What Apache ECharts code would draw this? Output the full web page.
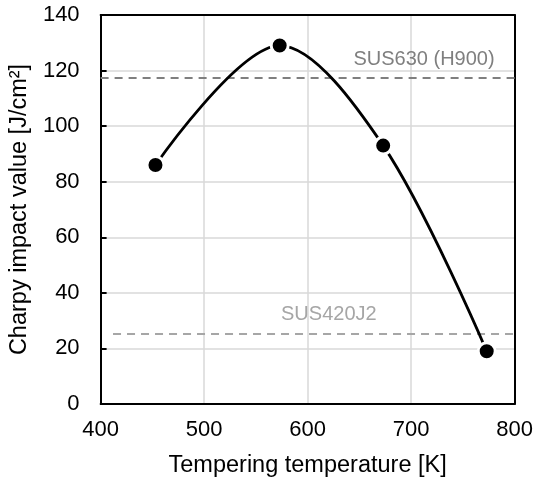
<!DOCTYPE html>
<html>
<head>
<meta charset="utf-8">
<script src="https://cdn.jsdelivr.net/npm/echarts@6/dist/echarts.min.js"></script>
<style>html,body{margin:0;padding:0;background:#fff;}#c{width:536px;height:483px;}</style>
</head>
<body>
<div id="c"></div>
<script>
var temperatures = [453, 573, 673, 773];
var charpyValues = [86, 129, 93, 19];
var xTicks = [400, 500, 600, 700, 800];
var yTicks = [0, 20, 40, 60, 80, 100, 120, 140];
var refNames = ['SUS630 (H900)', 'SUS420J2'];
var refValues = [117.3, 25.2];
var refStartX = [400, 412];

var FONT = 'Liberation Sans, Arial, sans-serif';
var chart = echarts.init(document.getElementById('c'), null, {renderer: 'canvas'});
var seriesData = temperatures.map(function (t, i) { return [t, charpyValues[i]]; });

var xMin = xTicks[0], xMax = xTicks[xTicks.length - 1];
var yMin = yTicks[0], yMax = yTicks[yTicks.length - 1];

var option = {
  animation: false,
  backgroundColor: '#fff',
  grid: {left: 100, right: 20, top: 15, bottom: 78},
  xAxis: [{
    type: 'value', min: xMin, max: xMax, interval: 100, position: 'bottom',
    name: 'Tempering temperature [K]', nameLocation: 'middle', nameGap: 50,
    nameTextStyle: {color: '#000', fontSize: 23.5, fontFamily: FONT},
    axisLine: {show: true, onZero: false, lineStyle: {color: '#000', width: 2}},
    axisTick: {show: false},
    axisLabel: {color: '#000', fontSize: 22, fontFamily: FONT, margin: 15},
    splitLine: {show: true, lineStyle: {color: '#d9d9d9', width: 1.5}}
  }, {
    type: 'value', min: xMin, max: xMax, interval: 100, position: 'top',
    axisLine: {show: true, onZero: false, lineStyle: {color: '#000', width: 2}},
    axisTick: {show: false}, axisLabel: {show: false}, splitLine: {show: false}
  }],
  yAxis: [{
    type: 'value', min: yMin, max: yMax, interval: 20, position: 'left',
    name: 'Charpy impact value [J/cm²]', nameLocation: 'middle', nameGap: 67,
    nameTextStyle: {color: '#000', fontSize: 23.5, fontFamily: FONT},
    axisLine: {show: true, onZero: false, lineStyle: {color: '#000', width: 2}},
    axisTick: {show: true, inside: true, length: 6, lineStyle: {color: '#000', width: 2}},
    axisLabel: {color: '#000', fontSize: 22, fontFamily: FONT, margin: 21},
    splitLine: {show: true, lineStyle: {color: '#d9d9d9', width: 1.5}}
  }, {
    type: 'value', min: yMin, max: yMax, interval: 20, position: 'right',
    axisLine: {show: true, onZero: false, lineStyle: {color: '#000', width: 2}},
    axisTick: {show: false}, axisLabel: {show: false}, splitLine: {show: false}
  }],
  series: [{
    type: 'line',
    xAxisIndex: 0, yAxisIndex: 0,
    data: seriesData,
    smooth: 0.33,
    symbol: 'circle',
    symbolSize: 17,
    showAllSymbol: true,
    lineStyle: {color: '#000', width: 2.8},
    itemStyle: {color: '#000', borderColor: '#fff', borderWidth: 3},
    z: 5,
    markLine: {
      silent: true,
      symbol: ['none', 'none'],
      animation: false,
      data: [
        [
          {coord: [refStartX[0], refValues[0]], lineStyle: {color: '#7f7f7f', type: [8, 6], width: 2},
           label: {show: true, formatter: refNames[0], position: 'insideEndTop', distance: [20, 9], color: '#7f7f7f', fontSize: 20, fontFamily: FONT}},
          {coord: [xMax, refValues[0]]}
        ],
        [
          {coord: [refStartX[1], refValues[1]], lineStyle: {color: '#a6a6a6', type: [8, 6], width: 2},
           label: {show: true, formatter: refNames[1], position: 'insideStartTop', distance: [168, 9], color: '#a6a6a6', fontSize: 20, fontFamily: FONT}},
          {coord: [xMax, refValues[1]]}
        ]
      ]
    }
  }]
};
chart.setOption(option);
</script>
</body>
</html>
